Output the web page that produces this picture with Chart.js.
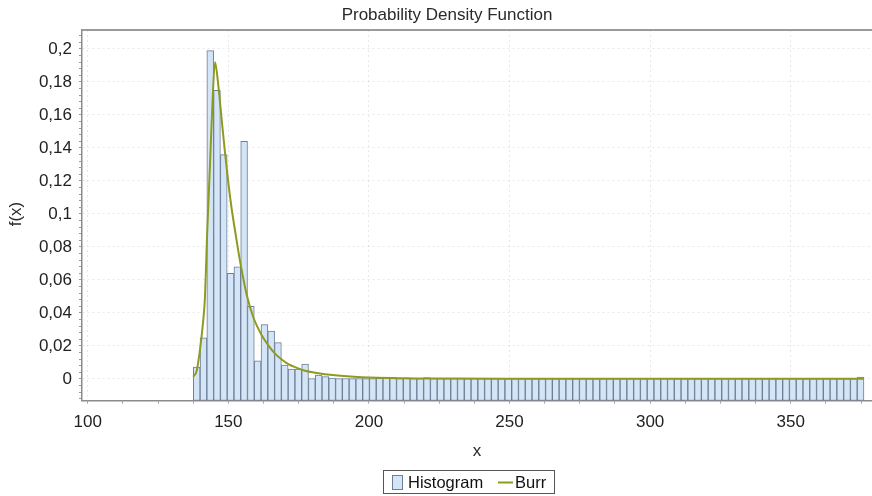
<!DOCTYPE html>
<html>
<head>
<meta charset="utf-8">
<script src="https://cdn.jsdelivr.net/npm/chart.js@4/dist/chart.umd.min.js"></script>
<style>
  body { margin: 0; background: #fff; }
  #wrap { width: 872px; height: 496px; }
</style>
</head>
<body>
<div id="wrap"><canvas id="pdfChart" width="872" height="496"></canvas></div>
<script>
// histogram: 99 equal bins starting at binStart
var binStart = 137.55;
var binWidth = 2.409;
var histValues = [
    0.0072, 0.025, 0.199, 0.175, 0.136, 0.064, 0.068, 0.144, 0.044, 0.011,
    0.033, 0.029, 0.022, 0.0085, 0.006, 0.006, 0.009, 0.0003, 0.0024, 0.0014,
    0.0005, 0.0003, 0.0003, 0.0002, 0.0003, 0.0002, 0.0003, 0.0004, 0.0011, 0.0008,
    0.0003, 0.0007, 0.0003, 0.0003, 0.0008, 0.0003, 0.0002, 0.0002, 0.0002, 0.0002,
    0.0002, 0.0002, 0.0002, 0.0002, 0.0002, 0.0002, 0.0002, 0.0002, 0.0002, 0.0002,
    0.0002, 0.0002, 0.0002, 0.0002, 0.0002, 0.0002, 0.0002, 0.0002, 0.0002, 0.0002,
    0.0002, 0.0002, 0.0002, 0.0002, 0.0002, 0.0002, 0.0002, 0.0002, 0.0002, 0.0002,
    0.0002, 0.0002, 0.0002, 0.0002, 0.0002, 0.0002, 0.0002, 0.0002, 0.0002, 0.0002,
    0.0002, 0.0002, 0.0002, 0.0002, 0.0002, 0.0002, 0.0002, 0.0002, 0.0002, 0.0002,
    0.0002, 0.0002, 0.0002, 0.0002, 0.0002, 0.0002, 0.0002, 0.0002, 0.0012
];

// fitted Burr curve
var burrX = [137.55, 138.76, 139.94, 141.0, 141.71, 142.43, 143.49, 144.38, 145.27, 146.44,
    147.65, 148.83, 150.0, 151.21, 152.39, 154.17, 156.54, 158.89, 161.88, 164.22,
    166.61, 168.99, 171.34, 174.32, 177.28, 180.83, 187.94, 197.44, 211.06, 230,
    260, 300, 340, 376.0];
var burrY = [0.0014, 0.005, 0.018, 0.034, 0.05, 0.086, 0.13, 0.168, 0.192, 0.178,
    0.157, 0.137, 0.119, 0.103, 0.090, 0.0714, 0.051, 0.0374, 0.0265, 0.0204,
    0.0154, 0.0118, 0.009, 0.0068, 0.005, 0.0038, 0.0022, 0.0011, 0.0005, 0.0003,
    0.0002, 0.0001, 0.0001, 0.0001];

var xMin = 97.97, xMax = 378.9, xMajor = 50, xMinor = 12.5;
var yMin = -0.01303, yMax = 0.2115, yMajor = 0.02, yMinor = 0.004;

var barFill = '#d3e5f6';
var barLine = '#6d7e96';
var burrColor = '#8d9b1f';
var fontFamily = '"Liberation Sans", Arial, sans-serif';

Chart.defaults.font.family = fontFamily;

function isMajor(v, step) {
    var r = v / step;
    return Math.abs(r - Math.round(r)) < 1e-6;
}

function fmtY(v) {
    return String(Math.round(v * 1000) / 1000).replace('.', ',');
}

var histData = histValues.map(function(v, i) {
    return {x: binStart + binWidth * (i + 0.5), y: v};
});
var burrData = burrX.map(function(x, i) {
    return {x: x, y: burrY[i]};
});

var gridColor = function(step) {
    return function(ctx) {
        if (ctx.tick && isMajor(ctx.tick.value, step)) return 'rgba(0,0,0,0.09)';
        return 'rgba(0,0,0,0)';
    };
};

var decorations = {
    id: 'decorations',
    afterDraw: function(chart) {
        var ctx = chart.ctx;
        var area = chart.chartArea;
        ctx.save();

        // top frame line
        ctx.strokeStyle = '#9a9a9a';
        ctx.lineWidth = 2;
        ctx.beginPath();
        ctx.moveTo(area.left, area.top);
        ctx.lineTo(area.right, area.top);
        ctx.stroke();

        ctx.fillStyle = '#2a2a2a';
        ctx.textAlign = 'center';
        ctx.textBaseline = 'middle';
        ctx.font = '17px ' + fontFamily;
        ctx.fillText('Probability Density Function', 447, 15);

        ctx.fillText('x', 477, 451);

        ctx.save();
        ctx.translate(16, 214);
        ctx.rotate(-Math.PI / 2);
        ctx.fillText('f(x)', 0, 0);
        ctx.restore();

        // legend
        ctx.strokeStyle = '#555';
        ctx.lineWidth = 1;
        ctx.strokeRect(383.5, 470.5, 171, 23);
        ctx.fillStyle = barFill;
        ctx.fillRect(392, 475, 11, 15);
        ctx.strokeStyle = barLine;
        ctx.strokeRect(392.5, 475.5, 10, 14);
        ctx.fillStyle = '#111';
        ctx.textAlign = 'left';
        ctx.font = '16.5px ' + fontFamily;
        ctx.fillText('Histogram', 408, 483);
        ctx.strokeStyle = burrColor;
        ctx.lineWidth = 2;
        ctx.beginPath();
        ctx.moveTo(498, 482.5);
        ctx.lineTo(513, 482.5);
        ctx.stroke();
        ctx.fillText('Burr', 515, 483);

        ctx.restore();
    }
};

var ctx = document.getElementById('pdfChart');
var pdfChart = new Chart(ctx, {
    type: 'bar',
    data: {
        datasets: [
            {
                type: 'line',
                label: 'Burr',
                data: burrData,
                borderColor: burrColor,
                borderWidth: 2,
                pointRadius: 0,
                cubicInterpolationMode: 'monotone',
                fill: false,
                order: 0
            },
            {
                type: 'bar',
                label: 'Histogram',
                data: histData,
                base: yMin,
                backgroundColor: barFill,
                borderColor: barLine,
                borderWidth: 1,
                borderSkipped: false,
                barPercentage: 1,
                categoryPercentage: 1,
                order: 1
            }
        ]
    },
    options: {
        responsive: false,
        animation: false,
        devicePixelRatio: 1,
        layout: { padding: { top: 30, left: 0, right: 0, bottom: 0 } },
        plugins: {
            legend: { display: false },
            title: { display: false },
            tooltip: { enabled: false }
        },
        scales: {
            x: {
                type: 'linear',
                offset: false,
                min: xMin,
                max: xMax,
                afterFit: function(scale) {
                    scale.height = 95.5;
                    scale.paddingLeft = 0;
                    scale.paddingRight = 0;
                },
                ticks: {
                    stepSize: xMinor,
                    maxTicksLimit: 200,
                    includeBounds: false,
                    autoSkip: false,
                    maxRotation: 0,
                    color: '#222',
                    font: { size: 17 },
                    padding: 9,
                    callback: function(v) { return isMajor(v, xMajor) ? String(v) : ''; }
                },
                grid: {
                    offset: false,
                    color: gridColor(xMajor),
                    tickColor: '#999',
                    tickLength: 3
                },
                border: { color: '#8c8c8c', width: 1.5, dash: [2, 3] }
            },
            y: {
                min: yMin,
                max: yMax,
                afterFit: function(scale) { scale.width = 82; },
                ticks: {
                    stepSize: yMinor,
                    maxTicksLimit: 200,
                    includeBounds: false,
                    autoSkip: false,
                    color: '#222',
                    font: { size: 17 },
                    padding: 7,
                    callback: function(v) { return isMajor(v, yMajor) && v >= 0 ? fmtY(v) : ''; }
                },
                grid: {
                    color: gridColor(yMajor),
                    tickColor: '#999',
                    tickLength: 3
                },
                border: { color: '#8c8c8c', width: 1.5, dash: [2, 3] }
            }
        }
    },
    plugins: [decorations]
});
</script>
</body>
</html>
